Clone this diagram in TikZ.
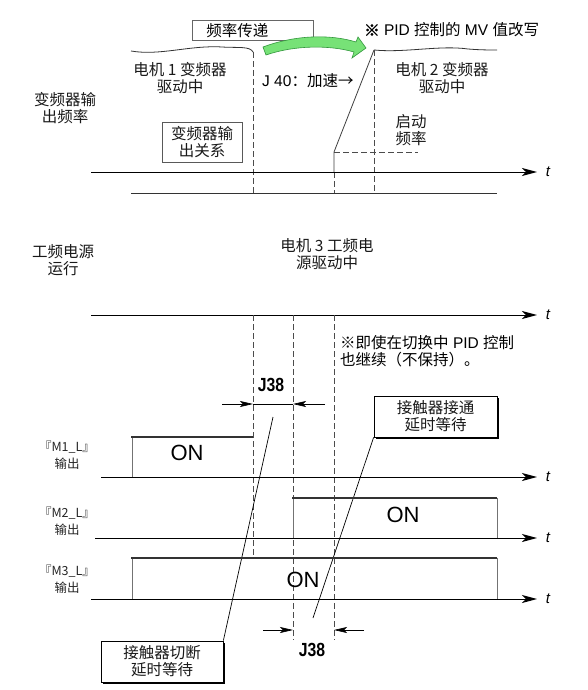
\documentclass[tikz,border=0pt]{standalone}
\usepackage{fontspec}
\setmainfont{Liberation Sans}
\newfontfamily\cjk{Noto Sans CJK SC}
\newfontfamily\cjkbold{Noto Sans CJK SC}[FakeBold=3]
\usetikzlibrary{arrows.meta,shadows}
\definecolor{gfill}{RGB}{119,226,119}
\definecolor{gdraw}{RGB}{50,150,60}
\begin{document}
\begin{tikzpicture}[x=1pt,y=-1pt,
  txt/.style={font=\cjk\fontsize{15.5}{17}\selectfont, align=center, inner sep=0pt, text=black!90},
  lbl/.style={font=\cjk\fontsize{12.5}{16.5}\selectfont, align=center, inner sep=0pt, text=black!85},
  onl/.style={font=\fontsize{22}{22}\selectfont, inner sep=0pt},
  jlbl/.style={font=\bfseries\fontsize{19}{19}\selectfont, inner sep=0pt},
  axis/.style={line width=1pt, -{Stealth[length=15pt,width=8pt,inset=4pt]}},
  tlbl/.style={font=\itshape\fontsize{15}{15}\selectfont, inner sep=0pt},
  dsh/.style={black!70, line width=0.9pt, dash pattern=on 6pt off 3pt},
  sig/.style={line width=2.2pt, black!80},
  edge/.style={line width=0.7pt, black!55},
  plainbox/.style={draw=black!65, line width=0.7pt, inner sep=0pt},
  shbox/.style={draw, line width=0.7pt, fill=white, inner sep=0pt, minimum width=122pt, minimum height=41pt,
    drop shadow={shadow xshift=2pt, shadow yshift=-2pt, fill=black, opacity=1}},
  dim/.style={line width=0.7pt, -{Stealth[length=13pt,width=6pt,inset=3pt]}},
  leader/.style={line width=0.7pt},
]
\useasboundingbox[fill=white] (0,0) rectangle (587,690);

% ---------- upper section ----------
\node[plainbox, draw=black!60, anchor=north west, minimum height=20pt, text width=93pt,
  inner xsep=14pt, align=left, font=\cjk\fontsize{15.5}{17}\selectfont] (fbox) at (192,20) {频率传递};

% green transfer arrow
\filldraw[fill=gfill, draw=gdraw, line width=0.6pt]
  (263,47) .. controls (295,35) and (330,34) .. (356,42)
  -- (358,37) -- (366,48) -- (352,58) -- (354,52)
  .. controls (330,45) and (295,45) .. (266,55) -- cycle;

% wavy tops
\draw[line width=0.8pt, black!80] (131,51) .. controls (160,56) and (190,45) .. (222,47)
  .. controls (238,48) and (250,46) .. (253,52);
\draw[line width=0.8pt, black!80] (374,50) .. controls (405,53) and (440,45) .. (468,49)
  .. controls (480,50) and (490,50) .. (497,50);

\draw[dsh] (253,52) -- (253,193);
\draw[line width=0.8pt, black!75] (334,172) -- (334,152) -- (374,50);
\draw[dsh] (334,172) -- (334,193);
\draw[dsh] (334,152) -- (418,152);
\draw[dsh] (374,50) -- (374,193);

\draw[axis] (91,172) -- (537,172);
\node[tlbl] (t1) at (548,172) {t};
\draw[line width=1pt, black!80] (131,193) -- (497,193);

\node[txt] (m1inv) at (180,78) {电机 1 变频器\\驱动中};
\node[txt] (invout) at (65,108) {变频器输\\出频率};
\node[txt, plainbox, minimum width=80pt, minimum height=40pt] (invrel) at (202,142) {变频器输\\出关系};
\node[anchor=west, inner sep=0pt, font=\fontsize{15.5}{17}\selectfont] (j40) at (262,81) {J 40{\cjk ：加速→}};
\node[anchor=west, inner sep=0pt, font=\fontsize{15.5}{17}\selectfont] (mv) at (364,30)
  {{\cjkbold ※} PID {\cjk 控制的} MV {\cjk 值改写}};
\node[txt] (m2inv) at (442,78) {电机 2 变频器\\驱动中};
\node[txt] (startf) at (411,130) {启动\\频率};

% ---------- commercial power section ----------
\node[txt] (comm) at (63,260) {工频电源\\运行};
\node[txt] (m3comm) at (327,254) {电机 3 工频电\\源驱动中};
\draw[axis] (91,315) -- (537,315);
\node[tlbl] (t2) at (548,315) {t};

\draw[dsh] (253,315) -- (253,557);
\draw[dsh] (293,315) -- (293,640);
\draw[dsh] (334,315) -- (334,640);

\node[anchor=west, align=left, inner sep=0pt, font=\fontsize{15.5}{17}\selectfont] (pidnote) at (340,351)
  {{\cjk ※即使在切换中} PID {\cjk 控制}\\{\cjk 也继续（不保持）。}};

% J38 top
\node[jlbl] (j38a) at (271,385) {\scalebox{0.83}[1]{J38}};
\draw[dim] (222,404) -- (253,404);
\draw[line width=0.7pt] (253,404) -- (293,404);
\draw[dim] (325,404) -- (293,404);

\node[txt, shbox, minimum width=123pt] (onwait) at (435.5,416.5) {接触器接通\\延时等待};
\node[txt, shbox] (offwait) at (162,661.5) {接触器切断\\延时等待};
\draw[leader] (onwait.south west) -- (313,618);
\draw[leader] (offwait.north east) -- (273,417);

% M1
\node[lbl] (m1l) at (67,455) {『M1\_L』\\输出};
\draw[edge] (132,477) -- (132,437);
\draw[sig] (131,437) -- (253,437);
\node[onl] (on1) at (187,453) {ON};
\draw[axis] (101,477) -- (537,477);
\node[tlbl] (t3) at (548,477) {t};

% M2
\node[lbl] (m2l) at (67,521) {『M2\_L』\\输出};
\draw[edge] (293,538) -- (293,498);
\draw[sig] (292,498) -- (497,498);
\draw[edge] (497,498) -- (497,538);
\node[onl] (on2) at (403,515) {ON};
\draw[axis] (95,538) -- (537,538);
\node[tlbl] (t4) at (548,538) {t};

% M3
\node[lbl] (m3l) at (67,579) {『M3\_L』\\输出};
\draw[edge] (132,599) -- (132,558);
\draw[sig] (131,558) -- (497,558);
\draw[edge] (497,558) -- (497,599);
\node[onl] (on3) at (303,580) {ON};
\draw[axis] (91,599) -- (537,599);
\node[tlbl] (t5) at (548,599) {t};

% J38 bottom
\draw[dim] (263,630) -- (293,630);
\draw[dim] (364,630) -- (334,630);
\node[jlbl] (j38b) at (312,650) {\scalebox{0.83}[1]{J38}};
\end{tikzpicture}
\end{document}
